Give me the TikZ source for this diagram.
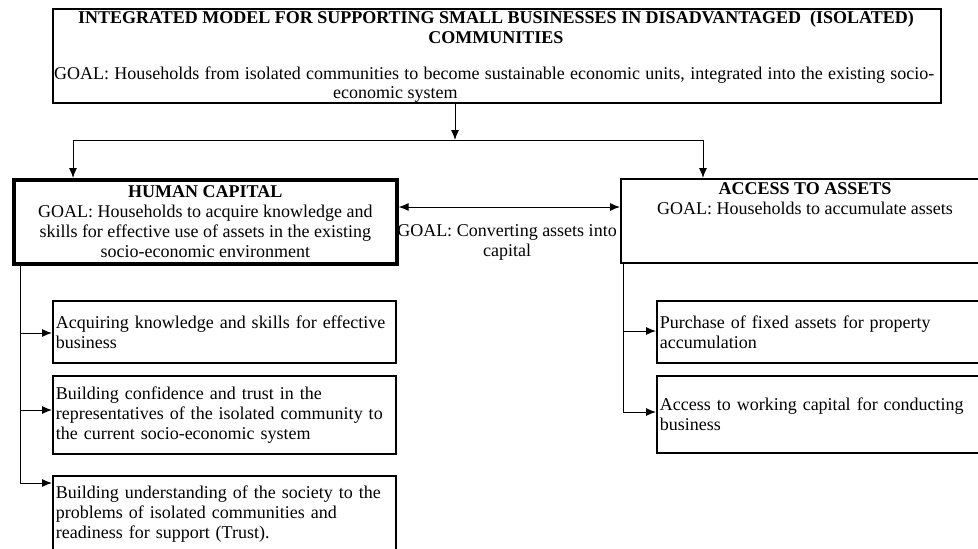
\documentclass[tikz,border=0pt]{standalone}
\usepackage{fontspec}
\setmainfont{Liberation Serif}
\usetikzlibrary{arrows.meta}
\begin{document}
\begin{tikzpicture}[x=1pt,y=-1pt,
  font=\fontsize{18}{20}\selectfont,
  box/.style={draw, line width=1.6pt, rectangle, inner sep=0pt},
  thickbox/.style={draw, line width=3.6pt, rectangle, inner sep=0pt},
  txt/.style={inner sep=0pt},
  arr/.style={line width=1pt, -{Latex[length=10pt,width=8pt]}},
  dblarr/.style={line width=1pt, {Latex[length=10pt,width=8pt]}-{Latex[length=10pt,width=8pt]}},
  ln/.style={line width=1pt},
  sbox/.style={box, anchor=north west, minimum width=343pt, text width=337pt, inner xsep=3pt, align=left},
  rbox/.style={box, anchor=north west, minimum width=380pt, text width=374pt, inner xsep=3pt, align=left}]
\useasboundingbox (0,0) rectangle (978,549);
\clip (0,0) rectangle (978,549);

% top box
\node[box, anchor=north west, minimum width=888pt, minimum height=94pt] (top) at (52,8) {};
\node[txt, anchor=base, align=center, font=\fontsize{18}{20}\selectfont\bfseries] (title) at (496,43)
  {INTEGRATED MODEL FOR SUPPORTING SMALL BUSINESSES IN DISADVANTAGED\ \ (ISOLATED)\\COMMUNITIES};
\node[txt, anchor=base west] (goal1) at (54,79)
  {\makebox[880pt][s]{GOAL: Households from isolated communities to become sustainable economic units, integrated into the existing socio-}};
\node[txt, anchor=base west] (goal2) at (333,98) {economic system};

% second level
\node[thickbox, anchor=north west, minimum width=383pt, minimum height=84pt, align=center] (human) at (12,178)
  {\textbf{HUMAN CAPITAL}\\GOAL: Households to acquire knowledge and\\skills for effective use of assets in the existing\\socio-economic environment};
\node[box, anchor=north west, minimum width=370pt, minimum height=84pt] (access) at (620,178) {};
\node[txt, anchor=base, align=center] (acctext) at (805,214)
  {\textbf{ACCESS TO ASSETS}\\GOAL: Households to accumulate assets};

% connectors from top
\coordinate (split) at (455,140);
\coordinate (hl) at (73,140);
\coordinate (hr) at (703,140);
\draw[arr] (top.south -| split) -- (split);
\draw[ln] (hl) -- (hr);
\draw[arr] (hl) -- (hl |- human.north);
\draw[arr] (hr) -- (hr |- access.north);

% double arrow
\coordinate (mid) at (0,207);
\draw[dblarr] (mid -| human.east) -- (mid -| access.west);
\node[txt, anchor=base, align=center] (conv) at (507,256) {GOAL: Converting assets into\\capital};

% left boxes
\node[sbox, minimum height=62pt] (a1) at (52,300) {Acquiring knowledge and skills for effective\\business};
\node[sbox, minimum height=78pt] (a2) at (52,375) {Building confidence and trust in the\\representatives of the isolated community to\\the current socio-economic system};
\node[sbox, minimum height=76pt] (a3) at (52,475) {Building understanding of the society to the\\problems of isolated communities and\\readiness for support (Trust).};

% right boxes
\node[rbox, minimum height=62pt] (b1) at (656,300) {Purchase of fixed assets for property\\accumulation};
\node[rbox, minimum height=77pt] (b2) at (656,375) {Access to working capital for conducting\\business};

% left spine
\coordinate (ls) at (20,0);
\coordinate (l1) at (20,333);
\coordinate (l2) at (20,410);
\coordinate (l3) at (20,483);
\draw[ln] (human.south -| ls) -- (l3);
\draw[arr] (l1) -- (l1 -| a1.west);
\draw[arr] (l2) -- (l2 -| a2.west);
\draw[arr] (l3) -- (l3 -| a3.west);

% right spine
\coordinate (rs) at (623,0);
\coordinate (r1) at (623,331);
\coordinate (r2) at (623,412);
\draw[ln] (access.south -| rs) -- (r2);
\draw[arr] (r1) -- (r1 -| b1.west);
\draw[arr] (r2) -- (r2 -| b2.west);
\end{tikzpicture}
\end{document}
